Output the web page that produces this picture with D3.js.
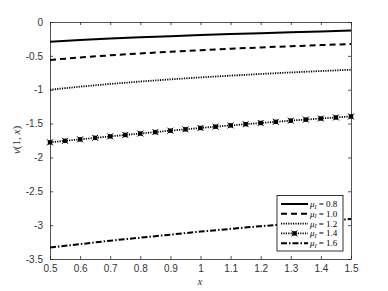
<!DOCTYPE html>
<html><head><meta charset="utf-8">
<script src="https://cdn.jsdelivr.net/npm/d3@7"></script>
<style>body{margin:0;background:#fff;}svg{display:block;}</style>
</head><body>
<script>
const xs10 = [0.5,0.6,0.7,0.8,0.9,1.0,1.1,1.2,1.3,1.4,1.5];
const mu08 = [-0.29,-0.266,-0.245,-0.226,-0.209,-0.193,-0.179,-0.166,-0.153,-0.14,-0.125];
const mu10 = [-0.56,-0.524,-0.492,-0.464,-0.439,-0.416,-0.395,-0.376,-0.358,-0.341,-0.325];
const mu12 = [-1.0,-0.955,-0.915,-0.879,-0.847,-0.818,-0.792,-0.768,-0.745,-0.724,-0.705];
const xs05 = [0.5,0.55,0.6,0.65,0.7,0.75,0.8,0.85,0.9,0.95,1.0,1.05,1.1,1.15,1.2,1.25,1.3,1.35,1.4,1.45,1.5];
const mu14 = [-1.777,-1.755,-1.733,-1.711,-1.689,-1.668,-1.647,-1.626,-1.605,-1.585,-1.565,-1.546,-1.527,-1.509,-1.491,-1.474,-1.457,-1.441,-1.425,-1.41,-1.395];
const mu16 = [-3.33,-3.28,-3.23,-3.185,-3.14,-3.095,-3.055,-3.015,-2.98,-2.945,-2.91];
const xTicks = [0.5,0.6,0.7,0.8,0.9,1,1.1,1.2,1.3,1.4,1.5];
const yTicks = [0,-0.5,-1,-1.5,-2,-2.5,-3,-3.5];
const legendLabels = ["0.8","1.0","1.2","1.4","1.6"];

const W=388,H=291;
const L=50,R=351,T=22,B=259;
const svg=d3.select("body").append("svg").attr("width",W).attr("height",H);
const x=d3.scaleLinear().domain([0.5,1.5]).range([L,R]);
const y=d3.scaleLinear().domain([-3.5,0]).range([B,T]);

const axCol="#262626";
const tickFont="'Liberation Sans', Arial, sans-serif";

function styleAxis(g){g.select(".domain").attr("stroke",axCol).attr("stroke-width",0.8);
  g.selectAll(".tick line").attr("stroke",axCol).attr("stroke-width",0.8);
  g.selectAll(".tick text").attr("fill","#333").attr("font-family",tickFont).attr("font-size",10);}
const gx=svg.append("g").attr("transform",`translate(0,${B})`)
  .call(d3.axisBottom(x).tickValues(xTicks).tickFormat(d3.format("")).tickSizeInner(-3).tickSizeOuter(0).tickPadding(6));
styleAxis(gx);
const gxt=svg.append("g").attr("transform",`translate(0,${T})`)
  .call(d3.axisTop(x).tickValues(xTicks).tickFormat("").tickSizeInner(-3).tickSizeOuter(0));
styleAxis(gxt);
const gy=svg.append("g").attr("transform",`translate(${L},0)`)
  .call(d3.axisLeft(y).tickValues(yTicks).tickFormat(d=>d===0?"0":String(d)).tickSizeInner(-3).tickSizeOuter(0).tickPadding(7));
styleAxis(gy);
const gyr=svg.append("g").attr("transform",`translate(${R},0)`)
  .call(d3.axisRight(y).tickValues(yTicks).tickFormat("").tickSizeInner(-3).tickSizeOuter(0));
styleAxis(gyr);

svg.append("defs").append("clipPath").attr("id","c").append("rect")
  .attr("x",L).attr("y",T).attr("width",R-L).attr("height",B-T);

const line=d3.line().x(d=>x(d[0])).y(d=>y(d[1]));
const series=[
  {xs:xs10,v:mu08,dash:null,w:2},
  {xs:xs10,v:mu10,dash:"6,4",w:2},
  {xs:xs10,v:mu12,dash:"1.2,1.2",w:1.8},
  {xs:xs05,v:mu14,dash:"1.2,1.2",w:1.8,marker:true},
  {xs:xs10,v:mu16,dash:"6,2,1.5,2",w:2}
];
const plot=svg.append("g").attr("clip-path","url(#c)");
function marker(g,cx,cy){
  g.append("rect").attr("x",cx-2.2).attr("y",cy-2.2).attr("width",4.4).attr("height",4.4).attr("fill","#000");
  g.append("path").attr("d",`M${cx-3},${cy-3}L${cx+3},${cy+3}M${cx-3},${cy+3}L${cx+3},${cy-3}`).attr("stroke","#000").attr("stroke-width",1);
}
series.forEach(s=>{
  const pts=s.xs.map((xv,i)=>[xv,s.v[i]]);
  plot.append("path").datum(pts).attr("d",line).attr("fill","none").attr("stroke","#000")
    .attr("stroke-width",s.w).attr("stroke-dasharray",s.dash);
  if(s.marker){pts.forEach(p=>marker(svg,x(p[0]),y(p[1])));}
});

const lg=svg.append("g");
lg.append("rect").attr("x",277).attr("y",195.5).attr("width",66).attr("height",55.5)
  .attr("fill","#fff").attr("stroke","#000").attr("stroke-width",0.8);
series.forEach((s,i)=>{
  const yy=204+i*9.8;
  lg.append("line").attr("x1",281).attr("x2",308).attr("y1",yy).attr("y2",yy)
    .attr("stroke","#000").attr("stroke-width",s.w).attr("stroke-dasharray",s.dash);
  if(s.marker) marker(lg,294.5,yy);
  const t=lg.append("text").attr("x",310).attr("y",yy+3).attr("font-family","'Liberation Serif',serif").attr("font-size",9).attr("fill","#000");
  t.append("tspan").attr("font-style","italic").text("μ");
  t.append("tspan").attr("font-style","italic").attr("font-size",6).attr("dy",1.5).text("I");
  t.append("tspan").attr("dy",-1.5).text(" = "+legendLabels[i]);
});

svg.append("text").attr("x",200).attr("y",285).attr("text-anchor","middle")
  .attr("font-family","'Liberation Serif',serif").attr("font-style","italic").attr("font-size",10).attr("fill",axCol).text("x");
const yl=svg.append("text").attr("transform","translate(20,140) rotate(-90)").attr("text-anchor","middle")
  .attr("font-family","'Liberation Serif',serif").attr("font-size",11).attr("fill",axCol);
yl.append("tspan").attr("font-style","italic").text("v");
yl.append("tspan").text("(1, ");
yl.append("tspan").attr("font-style","italic").text("x");
yl.append("tspan").text(")");
</script>
</body></html>
